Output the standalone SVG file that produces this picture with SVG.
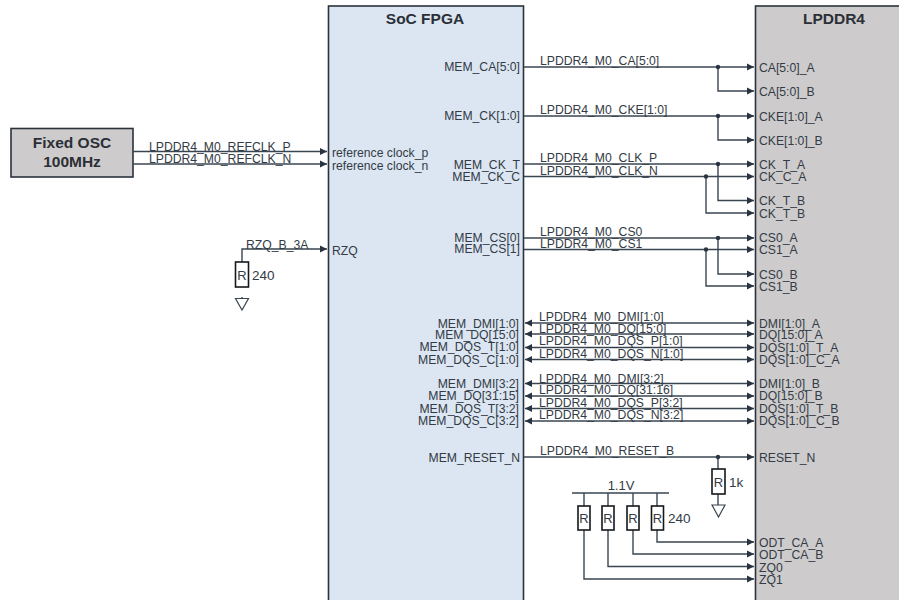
<svg xmlns="http://www.w3.org/2000/svg" width="899" height="600" viewBox="0 0 899 600">
<style>
text{font-family:"Liberation Sans",Arial,sans-serif;font-size:12.2px;fill:#333b45}
.b{font-size:15.5px;font-weight:bold;fill:#2b2f36;text-anchor:middle}
.e{text-anchor:end}
.m{text-anchor:middle;font-size:13px}
.v{font-size:13.5px}
.w{fill:none;stroke:#3a4552;stroke-width:1.4}
.a{marker-end:url(#arr)}
.d{marker-start:url(#arrs);marker-end:url(#arr)}
.r{fill:#fff;stroke:#15181c;stroke-width:1.6}
.box{stroke:#2a323c;stroke-width:1.6}
.dot{fill:#2a3440}
</style>
<defs>
<marker id="arr" markerUnits="userSpaceOnUse" markerWidth="8" markerHeight="8" refX="7" refY="4" orient="auto"><path d="M0 0.5L7 4L0 7.500Z" fill="#2a3440"/></marker>
<marker id="arrs" markerUnits="userSpaceOnUse" markerWidth="8" markerHeight="8" refX="1" refY="4" orient="auto"><path d="M8 0.5L1 4L8 7.500Z" fill="#2a3440"/></marker>
</defs>
<g id="soc-fpga"><rect class="box" x="328.5" y="6" width="195" height="600" fill="#dce6f2"/><text class="b" x="425" y="24">SoC FPGA</text>
<text x="332" y="157">reference clock_p</text><text x="332" y="170">reference clock_n</text><text x="332" y="255">RZQ</text>
<g class="pins">
<text class="e" x="520" y="71">MEM_CA[5:0]</text><text class="e" x="520" y="120">MEM_CK[1:0]</text><text class="e" x="520" y="169">MEM_CK_T</text><text class="e" x="520" y="181">MEM_CK_C</text><text class="e" x="520" y="242">MEM_CS[0]</text><text class="e" x="520" y="253">MEM_CS[1]</text>
<text class="e" x="519" y="328">MEM_DMI[1:0]</text><text class="e" x="519" y="339">MEM_DQ[15:0]</text><text class="e" x="519" y="351">MEM_DQS_T[1:0]</text><text class="e" x="519" y="364">MEM_DQS_C[1:0]</text>
<text class="e" x="519" y="388">MEM_DMI[3:2]</text><text class="e" x="519" y="400">MEM_DQ[31:15]</text><text class="e" x="519" y="413">MEM_DQS_T[3:2]</text><text class="e" x="519" y="425">MEM_DQS_C[3:2]</text>
<text class="e" x="520" y="462">MEM_RESET_N</text></g></g>
<g id="lpddr4"><rect class="box" x="755.5" y="6" width="150" height="600" fill="#cdcbcc"/><text class="b" x="834" y="24">LPDDR4</text>
<text x="759" y="72">CA[5:0]_A</text><text x="759" y="96">CA[5:0]_B</text><text x="759" y="121">CKE[1:0]_A</text><text x="759" y="145">CKE[1:0]_B</text><text x="759" y="169">CK_T_A</text><text x="759" y="181">CK_C_A</text><text x="759" y="205">CK_T_B</text><text x="759" y="218">CK_T_B</text><text x="759" y="242">CS0_A</text><text x="759" y="254">CS1_A</text><text x="759" y="279">CS0_B</text><text x="759" y="291">CS1_B</text>
<text x="759" y="328">DMI[1:0]_A</text><text x="759" y="339">DQ[15:0]_A</text><text x="759" y="352">DQS[1:0]_T_A</text><text x="759" y="364">DQS[1:0]_C_A</text><text x="759" y="388">DMI[1:0]_B</text><text x="759" y="400">DQ[15:0]_B</text><text x="759" y="413">DQS[1:0]_T_B</text><text x="759" y="425">DQS[1:0]_C_B</text>
<text x="759" y="462">RESET_N</text><text x="759" y="547">ODT_CA_A</text><text x="759" y="559">ODT_CA_B</text><text x="759" y="572">ZQ0</text><text x="759" y="584">ZQ1</text></g>
<g id="fixed-osc"><rect x="11" y="128.5" width="122" height="48.5" fill="#cdcbcc" stroke="#2a323c" stroke-width="1.6"/><text class="b" x="72" y="148">Fixed OSC</text><text class="b" x="72" y="167">100MHz</text></g>
<g id="connectors">
<path class="w a" d="M133 151.500H327"/><path class="w a" d="M133 164H327"/>
<path class="w a" d="M242 283V249H327"/>
<path class="w a" d="M524 67H754"/><path class="w a" d="M718 67V91H754"/>
<path class="w a" d="M524 116H754"/><path class="w a" d="M718 116V140H754"/>
<path class="w a" d="M524 164H754"/><path class="w a" d="M524 176.500H754"/><path class="w a" d="M718 164V200.500H754"/><path class="w a" d="M706 176.500V213H754"/>
<path class="w a" d="M524 238H754"/><path class="w a" d="M524 249.500H754"/><path class="w a" d="M718 238V274H754"/><path class="w a" d="M706 249.500V286H754"/>
<path class="w d" d="M525 323H754"/><path class="w d" d="M525 334H754"/><path class="w d" d="M525 347.500H754"/><path class="w d" d="M525 359.500H754"/>
<path class="w d" d="M525 383.500H754"/><path class="w d" d="M525 396H754"/><path class="w d" d="M525 408.500H754"/><path class="w d" d="M525 421H754"/>
<path class="w a" d="M524 457H754"/>
<path class="w" d="M718 457V505"/>
<path class="w" d="M572 493H669"/>
<path class="w a" d="M584 493V579H754"/><path class="w a" d="M608 493V566.500H754"/><path class="w a" d="M633 493V554H754"/><path class="w a" d="M657 493V542H754"/>
<path class="w" d="M242 297V304"/>
<circle class="dot" cx="718" cy="67" r="2.200"/><circle class="dot" cx="718" cy="116" r="2.200"/><circle class="dot" cx="718" cy="164" r="2.200"/><circle class="dot" cx="706" cy="176.500" r="2.200"/><circle class="dot" cx="718" cy="238" r="2.200"/><circle class="dot" cx="706" cy="249.500" r="2.200"/><circle class="dot" cx="718" cy="457" r="2.200"/>
<text x="149" y="151">LPDDR4_M0_REFCLK_P</text><text x="149" y="163">LPDDR4_M0_REFCLK_N</text><text x="246" y="249">RZQ_B_3A</text>
<text x="540" y="65">LPDDR4_M0_CA[5:0]</text><text x="540" y="114">LPDDR4_M0_CKE[1:0]</text><text x="540" y="162">LPDDR4_M0_CLK_P</text><text x="540" y="175">LPDDR4_M0_CLK_N</text><text x="540" y="236">LPDDR4_M0_CS0</text><text x="540" y="248">LPDDR4_M0_CS1</text>
<text x="539" y="321">LPDDR4_M0_DMI[1:0]</text><text x="539" y="333">LPDDR4_M0_DQ[15:0]</text><text x="539" y="345">LPDDR4_M0_DQS_P[1:0]</text><text x="539" y="358">LPDDR4_M0_DQS_N[1:0]</text>
<text x="539" y="383">LPDDR4_M0_DMI[3:2]</text><text x="539" y="394">LPDDR4_M0_DQ[31:16]</text><text x="539" y="407">LPDDR4_M0_DQS_P[3:2]</text><text x="539" y="419">LPDDR4_M0_DQS_N[3:2]</text>
<text x="540" y="455">LPDDR4_M0_RESET_B</text>
</g>
<g id="r-rzq"><rect class="r" x="235.500" y="262" width="13" height="25"/><text class="m" x="242" y="279.500">R</text><text class="v" x="252" y="280">240</text><path d="M235.500 298.500H248.500L242 310Z" fill="#fff" stroke="#3a4552" stroke-width="1.200"/></g>
<g id="r-reset"><rect class="r" x="712" y="469" width="13" height="25" /><text class="m" x="718.500" y="487">R</text><text class="v" x="729" y="487">1k</text><path d="M712 505H725L718.500 517Z" fill="#fff" stroke="#3a4552" stroke-width="1.200"/></g>
<g id="r-odt"><text class="m" x="621" y="490">1.1V</text>
<rect class="r" x="578" y="506" width="12" height="24"/><text class="m" x="584" y="523">R</text>
<rect class="r" x="602" y="506" width="12" height="24"/><text class="m" x="608" y="523">R</text>
<rect class="r" x="627" y="506" width="12" height="24"/><text class="m" x="633" y="523">R</text>
<rect class="r" x="651.500" y="506" width="12" height="24"/><text class="m" x="657.500" y="523">R</text>
<text class="v" x="668" y="523">240</text></g>
</svg>
